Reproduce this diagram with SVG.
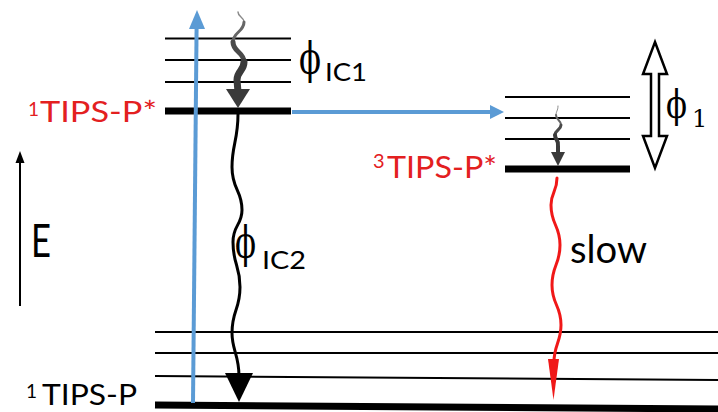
<svg xmlns="http://www.w3.org/2000/svg" width="718" height="412" viewBox="0 0 718 412">
<defs>
<style>
.thin{stroke:#000;stroke-width:2;fill:none}
.thick{stroke:#000;stroke-width:7;fill:none}
.lbl{font-family:Lato,"Liberation Sans",sans-serif}
.red{fill:#E3201F}
.blk{fill:#000}
.phi{font-family:"DejaVu Serif","Liberation Serif",serif;fill:#000}
.blue{stroke:#5B9BD5;stroke-width:4;fill:none}
.wave{fill:none;stroke-linecap:round}
</style>
</defs>
<rect width="718" height="412" fill="#fff"/>

<g id="singlet-excited">
<line class="thin" x1="165" y1="38.5" x2="291" y2="38.5"/>
<line class="thin" x1="165" y1="60" x2="291" y2="60"/>
<line class="thin" x1="165" y1="82" x2="291" y2="82"/>
<line class="thick" x1="165" y1="111" x2="291" y2="111"/>
<text class="lbl red"><tspan x="28" y="116" font-size="19">1</tspan><tspan x="40" y="122" font-size="28" textLength="117" lengthAdjust="spacingAndGlyphs">TIPS-P*</tspan></text>
</g>

<g id="triplet-excited">
<line class="thin" x1="505" y1="97" x2="630" y2="97"/>
<line class="thin" x1="505" y1="118" x2="630" y2="118"/>
<line class="thin" x1="505" y1="139" x2="630" y2="139"/>
<line class="thick" x1="505" y1="169" x2="630" y2="169"/>
<text class="lbl red"><tspan x="373" y="168" font-size="20">3</tspan><tspan x="387" y="178" font-size="30" textLength="110" lengthAdjust="spacingAndGlyphs">TIPS-P*</tspan></text>
</g>

<g id="ground">
<line class="thin" x1="155" y1="332" x2="718" y2="332"/>
<line class="thin" x1="155" y1="353" x2="718" y2="353"/>
<line class="thin" x1="155" y1="376" x2="718" y2="380"/>
<line class="thick" x1="155" y1="405" x2="718" y2="409"/>
<text class="lbl blk"><tspan x="26" y="398" font-size="19">1</tspan><tspan x="42" y="405" font-size="28" textLength="95" lengthAdjust="spacingAndGlyphs">TIPS-P</tspan></text>
</g>

<g id="energy-axis">
<line x1="20" y1="306" x2="20" y2="160" stroke="#000" stroke-width="2"/>
<polygon points="20,151 15.5,163 24.5,163" fill="#000"/>
<text class="lbl blk" x="31" y="257" font-size="47" textLength="20" lengthAdjust="spacingAndGlyphs">E</text>
</g>

<g id="labels">
<text class="phi" x="299" y="74" font-size="44" textLength="22" lengthAdjust="spacingAndGlyphs">ϕ</text>
<text class="lbl blk" x="325" y="81" font-size="25" textLength="42" lengthAdjust="spacingAndGlyphs">IC1</text>
<text class="phi" x="235" y="258" font-size="44" textLength="21" lengthAdjust="spacingAndGlyphs">ϕ</text>
<text class="lbl blk" x="262" y="269" font-size="25" textLength="44" lengthAdjust="spacingAndGlyphs">IC2</text>
<text class="phi" x="666" y="118" font-size="40" textLength="21" lengthAdjust="spacingAndGlyphs">ϕ</text>
<text class="phi" x="692" y="127" font-size="24">1</text>
<text class="lbl blk" x="570" y="263" font-size="38" textLength="77" lengthAdjust="spacingAndGlyphs">slow</text>
</g>

<g id="connectors">
<!-- excitation -->
<line class="blue" x1="193" y1="403" x2="196.6" y2="26"/>
<polygon points="197,10 189,29 205,29" fill="#5B9BD5"/>
<!-- intersystem crossing -->
<line class="blue" x1="292" y1="112" x2="492" y2="112"/>
<polygon points="504,112 490,105 490,119" fill="#5B9BD5"/>
<!-- IC1 wavy -->
<path class="wave" d="M238,12 C238,17 244,17 244,22" stroke="#8a8a8a" stroke-width="1.5"/>
<path class="wave" d="M244,22 C244,32 233,32 233,42" stroke="#666" stroke-width="3"/>
<path class="wave" d="M233,42 C233,52 244,52 244,62" stroke="#4a4a4a" stroke-width="5"/>
<path class="wave" d="M244,62 C244,71 237,71 237,80 L238,92" stroke="#3a3a3a" stroke-width="7"/>
<polygon points="226,89 250,89 238,108" fill="#3a3a3a"/>
<!-- IC2 wavy -->
<path class="wave" d="M238,114 C238,140 232,145 232,167 C232,190 242,190 242,210 C242,225 233,225 233,242 C233,265 240,265 240,287 C240,310 232,310 232,333 C232,350 239,355 239,376" stroke="#000" stroke-width="3"/>
<polygon points="225,373 253,373 239,402" fill="#000"/>
<!-- triplet relaxation wavy -->
<path class="wave" d="M558,106 C558,111 556,111 556,115" stroke="#8a8a8a" stroke-width="1"/>
<path class="wave" d="M556,115 C556,120 561,120 561,125" stroke="#666" stroke-width="2"/>
<path class="wave" d="M561,125 C561,130 555,130 555,135" stroke="#4a4a4a" stroke-width="3"/>
<path class="wave" d="M555,135 C555,140 559,140 558,146 L558,154" stroke="#3a3a3a" stroke-width="4"/>
<polygon points="551,152 565,152 558,166" fill="#3a3a3a"/>
<!-- slow red wavy -->
<path class="wave" d="M557,178 C557,192 551,192 551,205 C551,225 560,225 560,245 C560,265 552,265 552,285 C552,305 561,305 561,325 C561,342 554,345 554,362" stroke="#F01818" stroke-width="3"/>
<polygon points="548,359 559,359 553.5,400" fill="#F01818"/>
<!-- phi1 double arrow -->
<polygon points="655,42 667,74 659,74 659,136 667,136 655,168 643,136 651,136 651,74 643,74" fill="#fff" stroke="#000" stroke-width="2.5" stroke-linejoin="miter"/>
</g>
</svg>
